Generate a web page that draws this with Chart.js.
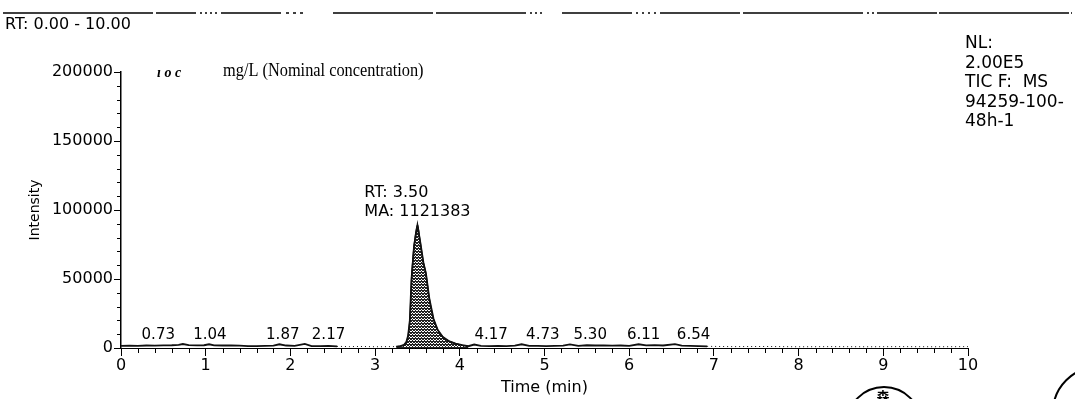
<!DOCTYPE html>
<html><head><meta charset="utf-8">
<script src="https://cdn.jsdelivr.net/npm/chart.js@4/dist/chart.umd.min.js"></script>
<style>html,body{margin:0;padding:0;background:#fff;overflow:hidden}#wrap{width:1075px;height:399px;position:relative}canvas{display:block}</style>
</head><body><div id="wrap"><canvas id="c" width="1075" height="399"></canvas></div>
<script>
// ---- data ----
const timeMin = [0.00,0.10,0.20,0.30,0.40,0.50,0.60,0.68,0.73,0.80,0.90,0.98,1.04,1.10,1.20,1.30,1.40,1.50,1.60,1.70,1.80,1.87,1.95,2.05,2.17,2.25,2.35,2.45,2.55,
  2.70,2.85,3.00,3.15,3.25,3.30,3.34,3.37,3.39,3.41,3.43,3.46,3.50,3.53,3.57,3.60,3.64,3.69,3.74,3.80,3.87,3.95,4.03,4.10,
  4.17,4.25,4.35,4.45,4.55,4.65,4.73,4.82,4.92,5.02,5.12,5.22,5.30,5.40,5.50,5.60,5.70,5.80,5.90,6.00,6.11,6.20,6.30,6.40,6.54,6.62,6.72,6.82,6.92,
  7.20,7.60,8.00,8.40,8.80,9.20,9.60,10.00];
const intensity = [1500,1700,1600,1800,1700,1900,2000,2300,2900,2100,1900,2000,2700,1900,1800,1900,1700,1400,1300,1500,1700,2700,1800,1500,3000,1400,1300,1500,1200,
  1000,1100,900,1000,1000,1300,2200,4500,9000,20000,50000,74000,89000,78000,62000,54000,36000,21000,13000,8000,5000,3200,2000,1300,
  2500,1500,1300,1600,1400,1700,2700,1600,1500,1400,1500,1700,2600,1600,2000,1800,1900,1700,1800,1600,2700,1900,2100,1800,2800,1700,1500,1400,1200,
  1000,1100,900,1000,900,1000,900,1000];
const peakLabels = ['0.73','1.04','1.87','2.17','4.17','4.73','5.30','6.11','6.54'];
const peakLabelAnchor = [0.44,1.05,1.91,2.45,4.37,4.98,5.54,6.17,6.76];
const peakLabelLevel = 9500;
const mainPeakRT = 3.50;
const mainPeakArea = 1121383;
const mainPeakHeight = 89000;
const integratedFrom = 3.25, integratedTo = 4.10;
const sparseRanges = [[2.55,3.25],[6.92,10]];
const xTickMax = 10, yTickMax = 200000, yStep = 50000, yMinorStep = 10000, xMinorStep = 0.2;

const pts = timeMin.map((t,i)=>({x:t,y:intensity[i]}));
const peakPts = pts.filter(p=>p.x>=integratedFrom && p.x<=integratedTo);

function stipple(){
  const c=document.createElement('canvas');c.width=3;c.height=3;const g=c.getContext('2d');
  g.fillStyle='#fff';g.fillRect(0,0,3,3);g.fillStyle='#222';
  [[0,0],[2,0],[1,1],[0,2],[2,2],[1,2]].forEach(([a,b])=>g.fillRect(a,b,1,1));
  return document.getElementById('c').getContext('2d').createPattern(c,'repeat');
}
const FONT='"DejaVu Sans", sans-serif';
const inSparse = x => sparseRanges.some(([a,b])=>x>=a-1e-9 && x<b);

const decor = {
  id:'decor',
  afterDraw(chart){
    const ctx=chart.ctx, xs=chart.scales.x, ys=chart.scales.y, ca=chart.chartArea;
    ctx.save();
    // minor ticks
    ctx.strokeStyle='#000';ctx.lineWidth=1;
    for(let v=yMinorStep; v<yTickMax; v+=yMinorStep){
      if(v%yStep===0) continue;
      const y=Math.round(ys.getPixelForValue(v))+0.5;
      ctx.beginPath();ctx.moveTo(ca.left-4,y);ctx.lineTo(ca.left,y);ctx.stroke();
    }
    for(let k=1;k<xTickMax/xMinorStep;k++){
      const t=k*xMinorStep; if(Math.abs(t-Math.round(t))<1e-6) continue;
      const x=Math.round(xs.getPixelForValue(t))+0.5;
      ctx.beginPath();ctx.moveTo(x,ca.bottom);ctx.lineTo(x,ca.bottom+5);ctx.stroke();
    }
    // header
    ctx.fillStyle='#000';ctx.textBaseline='middle';ctx.textAlign='left';
    ctx.font='16px '+FONT;
    ctx.fillText('RT: 0.00 - 10.00',5,25);
    ctx.font='17px '+FONT;
    ['NL:','2.00E5','TIC F:  MS','94259-100-','48h-1'].forEach((s,i)=>ctx.fillText(s,965,44+i*19.5));
    // broken top rule (scan residue)
    ctx.lineWidth=1.5;
    ctx.setLineDash([150,3,40,4,2,3,2,3,2,3,2,4,60,5,3,4,3,4,3,30,100,3,90,4,2,3,2,3,2,20,70,4,2,4,2,4,2,4,2,4,80,3,120,4,2,3,2,3,60,2,130,2]);
    ctx.beginPath();ctx.moveTo(3,13);ctx.lineTo(1072,13);ctx.stroke();ctx.setLineDash([]);
    // handwritten note and concentration
    ctx.font='italic bold 14px "Liberation Serif", serif';
    ctx.fillText('ı o c',157,73);
    ctx.save();ctx.translate(223,71);ctx.scale(0.86,1);
    ctx.font='19px "Liberation Serif", serif';ctx.fillText('mg/L (Nominal concentration)',0,0);ctx.restore();
    // main peak annotation
    ctx.font='16px '+FONT;
    const px=xs.getPixelForValue(mainPeakRT), py=ys.getPixelForValue(mainPeakHeight);
    const ma='MA: '+mainPeakArea, lx=px-ctx.measureText(ma).width/2;
    ctx.fillText('RT: '+mainPeakRT.toFixed(2),lx,py-32);
    ctx.fillText(ma,lx,py-13);
    // small peak labels
    ctx.textAlign='center';ctx.font='15px '+FONT;
    peakLabels.forEach((s,i)=>ctx.fillText(s,xs.getPixelForValue(peakLabelAnchor[i]),ys.getPixelForValue(peakLabelLevel)));
    // stamps
    ctx.lineWidth=2;
    ctx.beginPath();ctx.arc(884,424,37,0,Math.PI*2);ctx.stroke();
    ctx.font='bold 13px "Noto Sans CJK JP", sans-serif';ctx.fillText('森',883,396);
    ctx.beginPath();ctx.arc(1098,412,45,0,Math.PI*2);ctx.stroke();
    ctx.restore();
  }
};

new Chart(document.getElementById('c'),{
  type:'line',
  data:{datasets:[
    {data:peakPts,fill:'origin',backgroundColor:stipple(),borderColor:'#000',borderWidth:1.2,pointRadius:0,tension:0.3,order:2},
    {data:pts,fill:false,borderColor:'#111',borderWidth:1.8,pointRadius:0,tension:0,order:1,
     segment:{borderDash:c=>inSparse(c.p0.parsed.x)?[1,3]:undefined,borderWidth:c=>inSparse(c.p0.parsed.x)?1:1.8}}
  ]},
  options:{
    responsive:false,animation:false,
    layout:{padding:{top:72,right:107,left:0,bottom:0}},
    plugins:{legend:{display:false},tooltip:{enabled:false}},
    scales:{
      x:{type:'linear',min:0,max:xTickMax,
         afterFit(s){s.height=51;},
         ticks:{stepSize:1,color:'#000',font:{family:FONT,size:16},padding:0,maxRotation:0},
         grid:{drawOnChartArea:false,drawTicks:true,tickLength:8,tickColor:'#000',color:'#000'},
         border:{display:true,color:'#000',width:1},
         title:{display:true,text:'Time (min)',color:'#000',font:{family:FONT,size:16},padding:{top:0,bottom:2}}},
      y:{min:0,max:yTickMax,
         afterFit(s){s.width=121;},
         ticks:{stepSize:yStep,color:'#000',font:{family:FONT,size:16},padding:1,callback:v=>String(v)},
         grid:{drawOnChartArea:false,drawTicks:true,tickLength:7,tickColor:'#000',color:'#000'},
         border:{display:true,color:'#000',width:1.5},
         title:{display:true,text:'Intensity',color:'#000',font:{family:FONT,size:14},padding:{top:27,bottom:0}}}
    }
  },
  plugins:[decor]
});
</script></body></html>
